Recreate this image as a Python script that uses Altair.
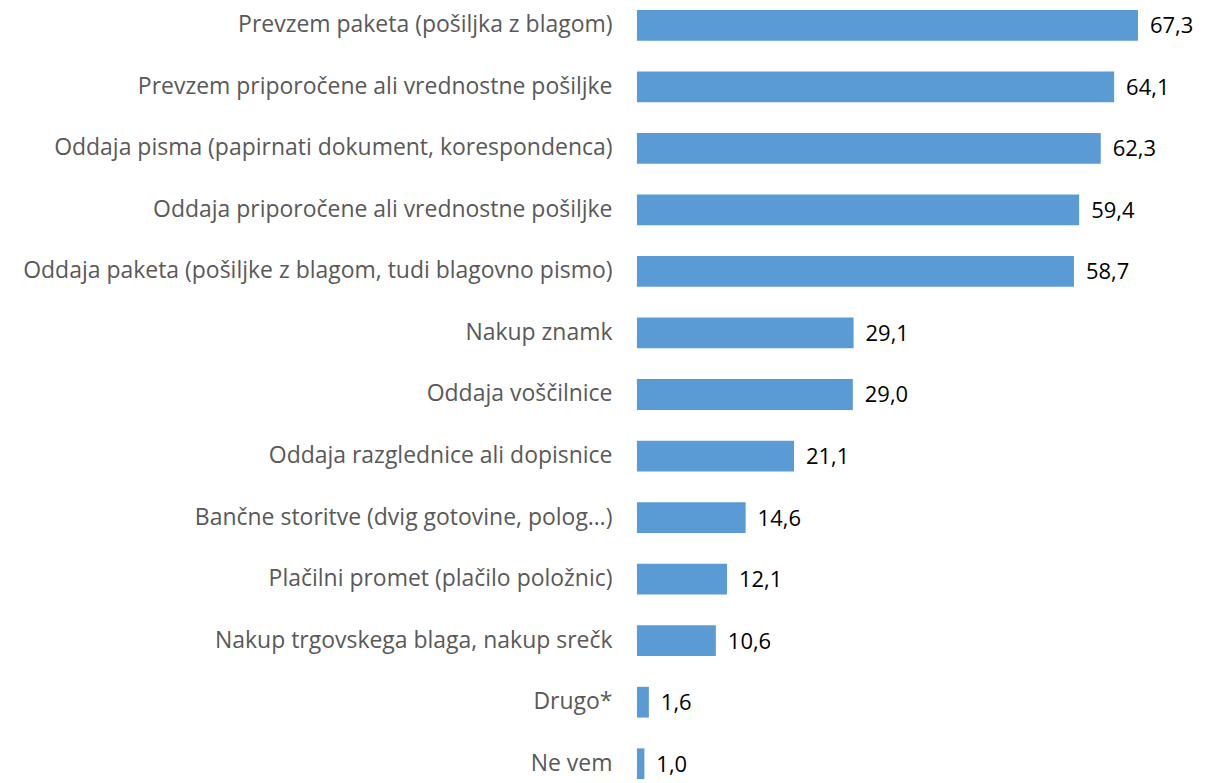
import altair as alt
import pandas as pd

categories = [
    "Prevzem paketa (pošiljka z blagom)",
    "Prevzem priporočene ali vrednostne pošiljke",
    "Oddaja pisma (papirnati dokument, korespondenca)",
    "Oddaja priporočene ali vrednostne pošiljke",
    "Oddaja paketa (pošiljke z blagom, tudi blagovno pismo)",
    "Nakup znamk",
    "Oddaja voščilnice",
    "Oddaja razglednice ali dopisnice",
    "Bančne storitve (dvig gotovine, polog…)",
    "Plačilni promet (plačilo položnic)",
    "Nakup trgovskega blaga, nakup srečk",
    "Drugo*",
    "Ne vem",
]
values = [67.3, 64.1, 62.3, 59.4, 58.7, 29.1, 29.0, 21.1, 14.6, 12.1, 10.6, 1.6, 1.0]
labels = [f"{v:.1f}".replace(".", ",") for v in values]

df = pd.DataFrame({"cat": categories, "val": values, "lab": labels})

y = alt.Y("cat:N", sort=categories,
          scale=alt.Scale(paddingInner=0.5, paddingOuter=0.02),
          axis=alt.Axis(title=None, domain=False, ticks=False, labelPadding=25,
                        labelFont="Open Sans", labelFontSize=23, labelColor="#595959",
                        labelLimit=1000))
x = alt.X("val:Q", scale=alt.Scale(domain=[0, 70], nice=False), axis=None)

bars = alt.Chart(df).mark_bar(color="#5B9BD5").encode(x=x, y=y)
text = alt.Chart(df).mark_text(align="left", baseline="middle", dx=12, dy=1,
                               font="Open Sans", fontSize=22, color="#000000").encode(
    x=x, y=y, text="lab:N")

chart = (bars + text).properties(
    width=522, height=773,
    padding={"left": 630, "top": 0, "right": 40, "bottom": 0},
    autosize="none",
).configure_view(stroke=None)

chart.save("out.html", embed_options={"renderer": "svg", "actions": False})
